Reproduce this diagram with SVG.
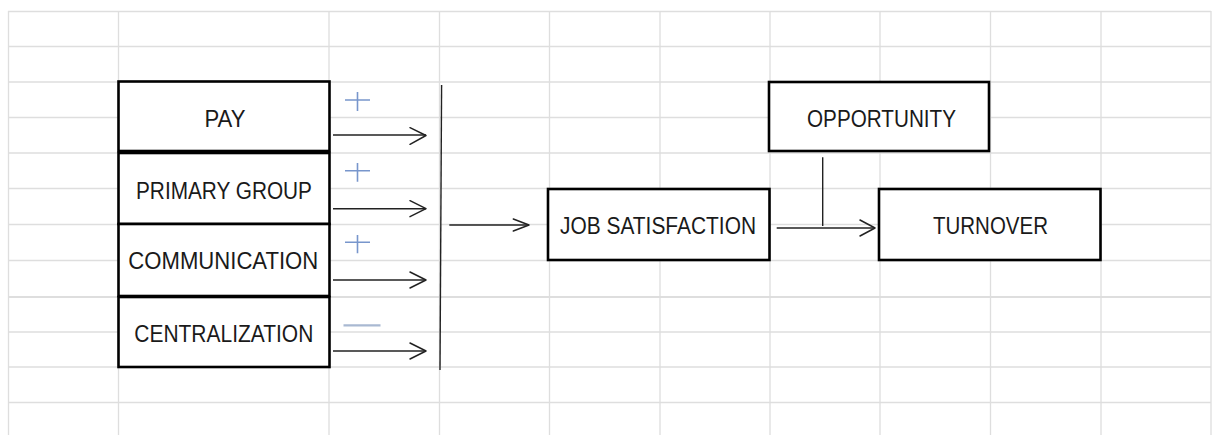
<svg xmlns="http://www.w3.org/2000/svg" width="1218" height="435" viewBox="0 0 1218 435">
<style>
.grid line{stroke:#dedede;stroke-width:1.3}
.box{fill:#ffffff;stroke:#000000;stroke-width:2.6}
.lbl{font-family:"Liberation Sans",Arial,sans-serif;font-size:23px;fill:#1a1a1a;text-anchor:middle}
.conn{stroke:#222222;stroke-width:1.4;fill:none}
.head{stroke:#222222;stroke-width:1.5;fill:none;stroke-linecap:round;stroke-linejoin:round}
.sign{stroke:#7896cc;stroke-width:1.6;fill:none}
.minus{stroke:#a9b9d2;stroke-width:2.2;fill:none}
</style>
<rect x="0" y="0" width="1218" height="435" fill="#ffffff"/>
<g class="grid">
<line x1="8" y1="11.5" x2="1211" y2="11.5"/>
<line x1="8" y1="46.5" x2="1211" y2="46.5"/>
<line x1="8" y1="82" x2="1211" y2="82"/>
<line x1="8" y1="117.5" x2="1211" y2="117.5"/>
<line x1="8" y1="153" x2="1211" y2="153"/>
<line x1="8" y1="188.5" x2="1211" y2="188.5"/>
<line x1="8" y1="224.5" x2="1211" y2="224.5"/>
<line x1="8" y1="260.5" x2="1211" y2="260.5"/>
<line x1="8" y1="297" x2="1211" y2="297" style="stroke-width:2.2"/>
<line x1="8" y1="332" x2="1211" y2="332"/>
<line x1="8" y1="367" x2="1211" y2="367"/>
<line x1="8" y1="402.5" x2="1211" y2="402.5"/>
<line x1="8.5" y1="11" x2="8.5" y2="435"/>
<line x1="118.5" y1="11" x2="118.5" y2="435"/>
<line x1="329" y1="11" x2="329" y2="435"/>
<line x1="439.5" y1="11" x2="439.5" y2="435"/>
<line x1="549.5" y1="11" x2="549.5" y2="435"/>
<line x1="660" y1="11" x2="660" y2="435"/>
<line x1="770" y1="11" x2="770" y2="435"/>
<line x1="880" y1="11" x2="880" y2="435"/>
<line x1="990.5" y1="11" x2="990.5" y2="435"/>
<line x1="1101" y1="11" x2="1101" y2="435"/>
<line x1="1211" y1="11" x2="1211" y2="435"/>
</g>
<g id="pay">
<rect class="box" x="118.5" y="81.5" width="211" height="69.5"/>
<text class="lbl" x="225" y="127" textLength="41" lengthAdjust="spacingAndGlyphs">PAY</text>
</g>
<g id="primary-group">
<rect class="box" x="118.5" y="153" width="211" height="71"/>
<text class="lbl" x="224" y="198.5" textLength="176" lengthAdjust="spacingAndGlyphs">PRIMARY GROUP</text>
</g>
<g id="communication">
<rect class="box" x="118.5" y="224" width="211" height="72"/>
<text class="lbl" x="223.3" y="269" textLength="190" lengthAdjust="spacingAndGlyphs">COMMUNICATION</text>
</g>
<g id="centralization">
<rect class="box" x="118.5" y="297" width="211" height="70"/>
<text class="lbl" x="223.8" y="341.7" textLength="179" lengthAdjust="spacingAndGlyphs">CENTRALIZATION</text>
</g>
<g id="job-satisfaction">
<rect class="box" x="548" y="189" width="221.5" height="71"/>
<text class="lbl" x="658" y="234" textLength="196" lengthAdjust="spacingAndGlyphs">JOB SATISFACTION</text>
</g>
<g id="opportunity">
<rect class="box" x="769" y="82" width="220" height="69"/>
<text class="lbl" x="881.5" y="126.7" textLength="149" lengthAdjust="spacingAndGlyphs">OPPORTUNITY</text>
</g>
<g id="turnover">
<rect class="box" x="879" y="189" width="221.5" height="71"/>
<text class="lbl" x="990.5" y="234" textLength="115" lengthAdjust="spacingAndGlyphs">TURNOVER</text>
</g>
<g id="signs">
<path class="sign" d="M345 100H370M357.5 92V111"/>
<path class="sign" d="M345 170.7H370M357.5 163V181.7"/>
<path class="sign" d="M345 242.3H370M357.5 235V253.3"/>
<path class="minus" d="M343.5 325.3H380.5"/>
</g>
<g id="connectors">
<path class="conn" d="M333 135H426"/>
<path class="head" d="M410 127.7L426 135.5L410 144.3"/>
<path class="conn" d="M333 208.7H426"/>
<path class="head" d="M410 200.7L426 208.7L410 216.7"/>
<path class="conn" d="M333 280H426"/>
<path class="head" d="M410 272L426 280L410 288"/>
<path class="conn" d="M333 351H426"/>
<path class="head" d="M410 343L426 351L410 359"/>
<path class="conn" d="M441.6 85L440 370"/>
<path class="conn" d="M449.3 225H529"/>
<path class="head" d="M513.3 219L529 225L513.3 231"/>
<path class="conn" d="M776.7 228H875"/>
<path class="head" d="M860 220L875 228L860 236"/>
<path class="conn" d="M822.7 157.3V226"/>
</g>
</svg>
